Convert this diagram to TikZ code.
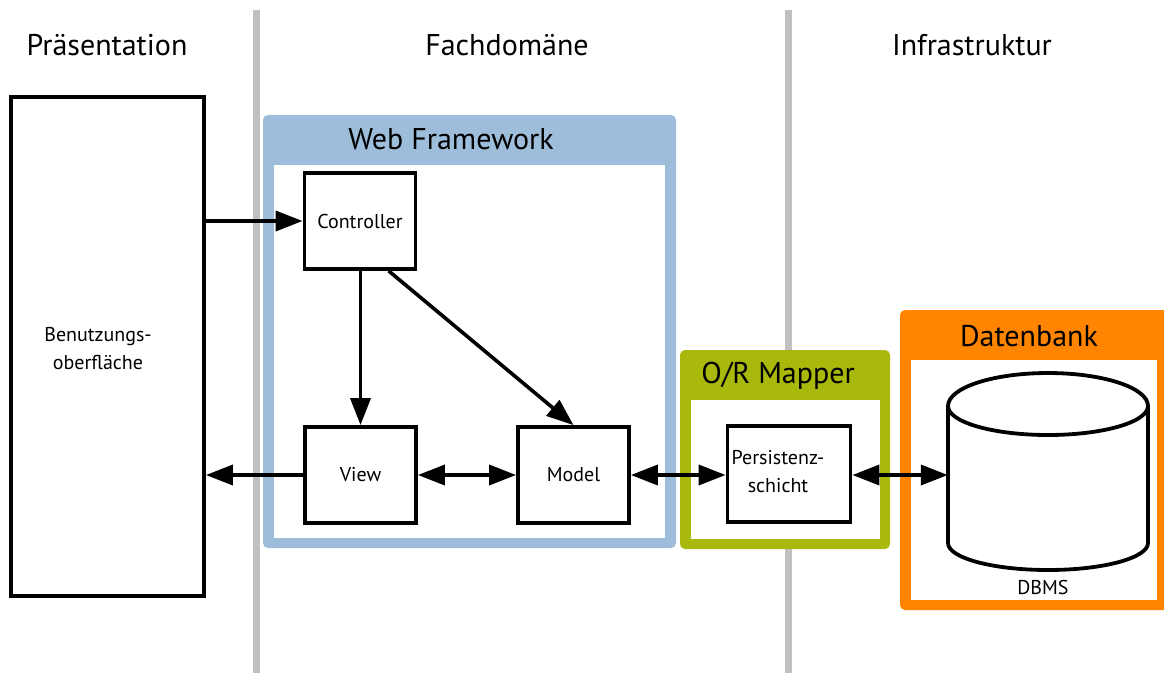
\documentclass[tikz,border=0pt]{standalone}
\usepackage{fontspec}
\setmainfont{PT Sans}
\usetikzlibrary{arrows.meta,calc}
\definecolor{sepgray}{HTML}{C0C0C0}
\definecolor{wfblue}{HTML}{9DBDDA}
\definecolor{orgreen}{HTML}{A9B90C}
\definecolor{dborange}{HTML}{FF8500}
\tikzset{
  box/.style={draw=black,line width=3.8pt,fill=white,inner sep=0pt,minimum width=111pt,minimum height=96pt,font=\fontsize{20}{24}\selectfont},
  boxtext/.style={align=center,font=\fontsize{20}{28}\selectfont,inner sep=0pt},
  conn/.style={line width=3.6pt,-{Triangle[length=27pt,width=20pt]}},
  biconn/.style={line width=3.6pt,{Triangle[length=27pt,width=20pt]}-{Triangle[length=27pt,width=20pt]}},
  header/.style={font=\fontsize{30}{34}\selectfont},
  frametitle/.style={font=\fontsize{30}{34}\selectfont},
  sep/.style={draw=sepgray,line width=7pt}
}
\begin{document}
\begin{tikzpicture}[x=1pt,y=-1pt]
\useasboundingbox (0,0) rectangle (1164,673);
\fill[white] (0,0) rectangle (1164,673);
% separators
\draw[sep] (256.5,10) -- (256.5,673);
\draw[sep] (788,10) -- (788,673);
% headers
\node[header] (hpres) at (107,45) {Präsentation};
\node[header] (hfach) at (507,45) {Fachdomäne};
\node[header] (hinfra) at (972,45) {Infrastruktur};
% Presentation box
\node[draw=black,line width=3.8pt,fill=white,minimum width=193pt,minimum height=499pt,inner sep=0pt] (ui) at (107.5,346.5) {};
\node[boxtext] (uitext) at (98,349) {Benutzungs-\\oberfläche};
% Web Framework frame
\fill[wfblue,rounded corners=5pt] (263,115) rectangle (676,548);
\fill[white] (274,165) rectangle (665,538);
\node[frametitle] (wftitle) at (451,139) {Web Framework};
% O/R Mapper frame
\fill[orgreen,rounded corners=5pt] (680,350) rectangle (890,549);
\fill[white] (691,400) rectangle (880,539);
\node[frametitle] (ortitle) at (778,376) {O/R Mapper};
% Datenbank frame
\fill[dborange,rounded corners=5pt] (900,310) rectangle (1170,610);
\fill[white] (911,360) rectangle (1157,600);
\node[frametitle] (dbtitle) at (1029,336) {Datenbank};
% boxes
\node[box] (ctrl) at (360,221) {Controller};
\node[box] (view) at (360.5,475) {View};
\node[box] (model) at (573.5,475) {Model};
\node[box,minimum width=123pt] (pers) at (789,474) {};
\node[boxtext] (perstext) at (778,472) {Persistenz-\\schicht};
% cylinder
\node[minimum width=200pt,minimum height=197pt,inner sep=0pt] (db) at (1048,471) {};
\draw[line width=3.8pt,fill=white] (948,406) -- (948,543) arc[start angle=180,end angle=360,x radius=100,y radius=-27] -- (1148,406) arc[start angle=0,end angle=180,x radius=100,y radius=-33] -- cycle;
\draw[line width=3.8pt] (948,406) arc[start angle=180,end angle=360,x radius=100,y radius=-29];
\node[font=\fontsize{20}{24}\selectfont] (dbms) at (1043,587) {DBMS};
% connectors
\draw[conn] (ui.east |- ctrl.west) -- (ctrl.west);
\draw[conn] (view.west) -- (ui.east |- view.west);
\draw[conn] (ctrl.south -| view.north) -- (view.north);
\draw[conn] ($(ctrl.south west)!0.75!(ctrl.south east)$) -- (model.north);
\draw[biconn] (view.east) -- (model.west);
\draw[biconn] (model.east) -- (pers.west |- model.east);
\draw[biconn] (pers.east |- model.east) -- (db.west |- model.east);
\end{tikzpicture}
\end{document}
